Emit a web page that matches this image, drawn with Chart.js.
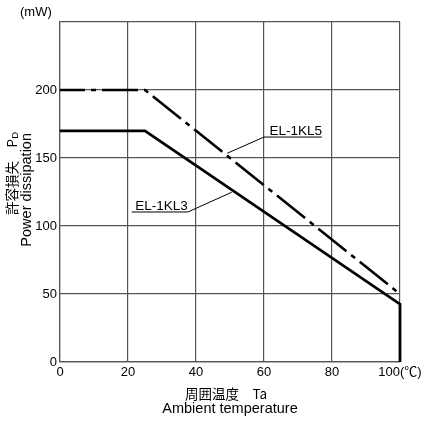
<!DOCTYPE html>
<html>
<head>
<meta charset="utf-8">
<script src="https://cdn.jsdelivr.net/npm/chart.js@4"></script>
<style>
html,body{margin:0;padding:0;background:#fff;}
#wrap{width:429px;height:421px;position:relative;}
</style>
</head>
<body>
<div id="wrap"><canvas id="c"></canvas></div>
<script>
// ---- data ----
const tempKL5 = [0, 25, 100];
const pdKL5   = [200, 200, 50];
const tempKL3 = [0, 25, 100, 100];
const pdKL3   = [170, 170, 42.5, 0];
const seriesNames = ['EL-1KL5', 'EL-1KL3'];
const xTickValues = [0, 20, 40, 60, 80, 100];
const yTickValues = [0, 50, 100, 150, 200];

const LATIN = '"Liberation Sans", Arial, "Noto Sans CJK JP", sans-serif';
const CJK = '"Noto Sans CJK JP", "Liberation Sans", sans-serif';

function pts(xs, ys){ return xs.map((x,i)=>({x:x, y:ys[i]})); }

// label annotations (in data units)
const labelCfg = [
  {name: seriesNames[0], textX: 61.6, lineY: 165.4, lineX0: 60.0, lineX1: 77.0, leaderFrom: 'left', target: {x: 49.2, y: 153.5}},
  {name: seriesNames[1], textX: 22.1, lineY: 110.3, lineX0: 21.1, lineX1: 37.6, leaderFrom: 'right', target: {x: 50.5, y: 124.8}}
];

const annot = {
  id: 'annot',
  afterDatasetsDraw(chart){
    const ctx = chart.ctx, xs = chart.scales.x, ys = chart.scales.y, ca = chart.chartArea;
    ctx.save();
    labelCfg.forEach(l => {
      const ly = ys.getPixelForValue(l.lineY);
      const x0 = xs.getPixelForValue(l.lineX0), x1 = xs.getPixelForValue(l.lineX1);
      ctx.strokeStyle = '#000'; ctx.lineWidth = 1;
      ctx.beginPath(); ctx.moveTo(x0, ly); ctx.lineTo(x1, ly);
      const sx = l.leaderFrom === 'left' ? x0 : x1;
      ctx.moveTo(sx, ly);
      ctx.lineTo(xs.getPixelForValue(l.target.x), ys.getPixelForValue(l.target.y));
      ctx.stroke();
      ctx.fillStyle = '#000';
      ctx.font = '13.5px ' + LATIN;
      ctx.textAlign = 'left'; ctx.textBaseline = 'alphabetic';
      ctx.fillText(l.name, xs.getPixelForValue(l.textX), ly - 2);
    });
    ctx.font = '13px ' + LATIN;
    ctx.textAlign = 'left'; ctx.textBaseline = 'middle';
    ctx.fillText('(mW)', 20, 12);
    const cx = (ca.left + ca.right) / 2;
    ctx.textAlign = 'center';
    ctx.font = '13.5px ' + CJK;
    ctx.fillText('周囲温度　Ta', cx - 4, 394);
    ctx.font = '14.5px ' + LATIN;
    ctx.fillText('Ambient temperature', cx, 409);
    ctx.save();
    ctx.translate(12, 132);
    ctx.rotate(-Math.PI/2);
    ctx.textAlign = 'right'; ctx.textBaseline = 'middle';
    ctx.font = '9.5px ' + LATIN;
    const wD = ctx.measureText('D').width;
    ctx.fillText('D', 0, 3);
    ctx.font = '13.5px ' + CJK;
    ctx.fillText('許容損失　P', -wD, 0);
    ctx.restore();
    ctx.save();
    ctx.translate(27, 133);
    ctx.rotate(-Math.PI/2);
    ctx.textAlign = 'right'; ctx.textBaseline = 'middle';
    ctx.font = '14.5px ' + LATIN;
    ctx.fillText('Power dissipation', 0, 0);
    ctx.restore();
    ctx.restore();
  }
};

new Chart(document.getElementById('c'), {
  type: 'scatter',
  data: {
    datasets: [
      {label: seriesNames[0], data: pts(tempKL5, pdKL5), showLine: true, borderColor: '#000', backgroundColor: '#000',
       borderWidth: 2.6, borderDash: [36, 6, 5, 6], borderDashOffset: 11, pointRadius: 0, tension: 0, clip: 4},
      {label: seriesNames[1], data: pts(tempKL3, pdKL3), showLine: true, borderColor: '#000', backgroundColor: '#000',
       borderWidth: 2.8, pointRadius: 0, tension: 0, clip: 4}
    ]
  },
  options: {
    responsive: true, maintainAspectRatio: false, animation: false,
    layout: {padding: {top: 22, right: 29, left: 0, bottom: 0}},
    plugins: {legend: {display: false}, tooltip: {enabled: false}},
    scales: {
      x: {
        type: 'linear', min: 0, max: 100,
        afterBuildTicks: s => { s.ticks = xTickValues.map(v => ({value: v})); },
        ticks: {color: '#000', font: {size: 13, family: LATIN}, padding: 3, maxRotation: 0,
                callback: v => v === 100 ? '100(℃)' : String(v)},
        grid: {color: '#555', lineWidth: 1.2, drawTicks: false},
        border: {color: '#555', width: 1.2},
        afterFit: s => { s.height = 59; }
      },
      y: {
        min: 0, max: 250,
        afterBuildTicks: s => { s.ticks = yTickValues.concat([250]).map(v => ({value: v})); },
        ticks: {color: '#000', font: {size: 13, family: LATIN}, padding: 3,
                callback: v => v === 250 ? '' : String(v)},
        grid: {color: '#555', lineWidth: 1.2, drawTicks: false},
        border: {color: '#555', width: 1.2},
        afterFit: s => { s.height = s.height; s.width = 60; }
      }
    }
  },
  plugins: [annot]
});
</script>
</body>
</html>
